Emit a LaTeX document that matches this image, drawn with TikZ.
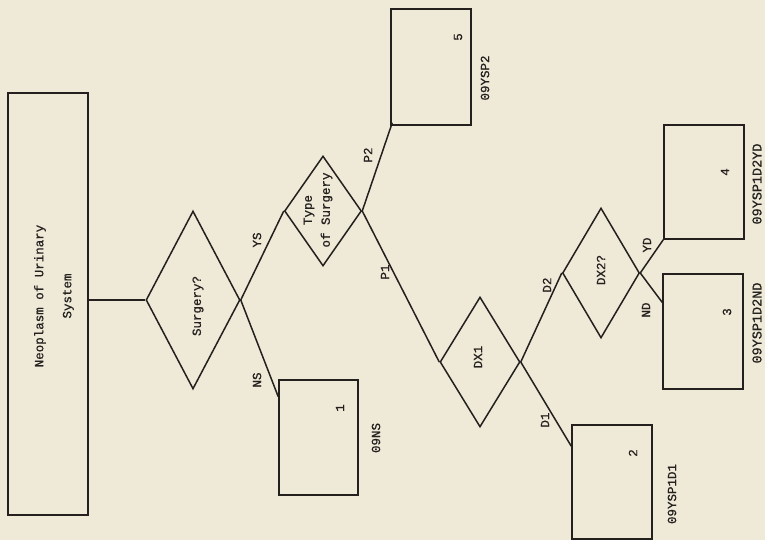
\documentclass[tikz,border=0pt]{standalone}
\usepackage{fontspec}
\newfontfamily\tw[FakeBold=0.7]{Liberation Mono}
\usetikzlibrary{shapes.geometric,calc}
\definecolor{paper}{RGB}{239,233,216}
\definecolor{ink}{RGB}{35,32,30}
\begin{document}
\begin{tikzpicture}[x=1pt,y=-1pt,
  every node/.style={font=\tw\fontsize{12.5}{14}\selectfont, text=ink},
  box/.style={draw=ink, line width=1.5pt, rectangle, inner sep=0pt},
  dia/.style={draw=ink, line width=1.5pt, diamond, inner sep=0pt},
  conn/.style={draw=ink, line width=1.5pt},
  rot/.style={rotate=90, inner sep=0pt}]
\fill[paper] (0,0) rectangle (765,540);
\useasboundingbox (0,0) rectangle (765,540);
% boxes
\node[box, minimum width=80pt, minimum height=422pt] (main) at (48,304) {};
\node[box, minimum width=79pt, minimum height=115pt] (box1) at (318.5,437.5) {};
\node[box, minimum width=80pt, minimum height=116pt] (box5) at (431,67) {};
\node[box, minimum width=80pt, minimum height=114pt] (box2) at (612,482) {};
\node[box, minimum width=80pt, minimum height=114pt] (box4) at (704,182) {};
\node[box, minimum width=80pt, minimum height=115pt] (box3) at (703,331.5) {};
% diamonds
\node[dia, minimum width=94pt, minimum height=178pt] (surg) at (193,300) {};
\node[dia, minimum width=77pt, minimum height=110pt] (type) at (323,211) {};
\node[dia, minimum width=80pt, minimum height=130pt] (dx1) at (480,362) {};
\node[dia, minimum width=77pt, minimum height=130pt] (dx2) at (601,273) {};
% connectors
\draw[conn] (main.east |- surg.west) -- (surg.west);
\draw[conn] (surg.east) -- (type.west);
\draw[conn] (surg.east) -- ($(box1.north west)!0.15!(box1.south west)$);
\draw[conn] (type.east) -- ($(box5.south west)+(2,-3)$);
\draw[conn] (type.east) -- (dx1.west);
\draw[conn] (dx1.east) -- ($(box2.north west)!0.19!(box2.south west)$);
\draw[conn] (dx1.east) -- (dx2.west);
\draw[conn] (dx2.east) -- (box4.south west);
\draw[conn] (dx2.east) -- ($(box3.north west)!0.25!(box3.south west)$);
% texts in shapes
\node[rot, align=center, font=\tw\fontsize{12.5}{28}\selectfont] (tmain) at (54,296) {Neoplasm of Urinary\\System};
\node[rot] (tsurg) at (198,306) {Surgery?};
\node[rot, align=center, font=\tw\fontsize{12.5}{18}\selectfont] (ttype) at (318,210) {Type\\of Surgery};
\node[rot] (tdx1) at (478,357) {DX1};
\node[rot] (tdx2) at (601,270) {DX2?};
\node[rot] (n1) at (340,408) {1};
\node[rot] (n5) at (458,37) {5};
\node[rot] (n2) at (633,453) {2};
\node[rot] (n3) at (727,312) {3};
\node[rot] (n4) at (725,172) {4};
% branch labels
\node[rot] (lys) at (257,240) {YS};
\node[rot] (lns) at (257,380) {NS};
\node[rot] (lp2) at (368,155) {P2};
\node[rot] (lp1) at (385,272) {P1};
\node[rot] (ld2) at (547,285) {D2};
\node[rot] (ld1) at (545,420) {D1};
\node[rot] (lyd) at (647,245) {YD};
\node[rot] (lnd) at (646,310) {ND};
% codes
\node[rot] (c1) at (376,438) {09NS};
\node[rot] (c5) at (485,78) {09YSP2};
\node[rot] (c2) at (672,494) {09YSP1D1};
\node[rot, font=\tw\fontsize{13.5}{15}\selectfont] (c4) at (757,184) {09YSP1D2YD};
\node[rot, font=\tw\fontsize{13.5}{15}\selectfont] (c3) at (757,323) {09YSP1D2ND};
\end{tikzpicture}
\end{document}
